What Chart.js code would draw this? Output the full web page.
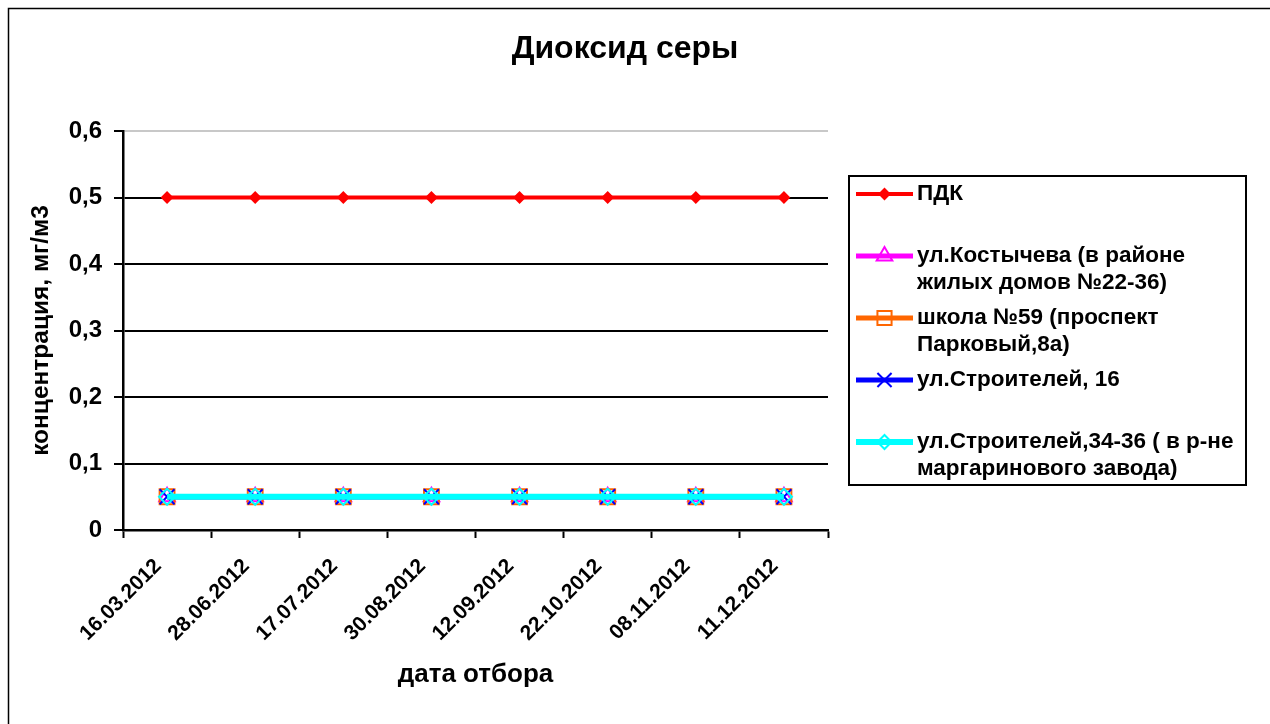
<!DOCTYPE html>
<html>
<head>
<meta charset="utf-8">
<script src="https://cdn.jsdelivr.net/npm/chart.js@4/dist/chart.umd.min.js"></script>
<style>
	body { margin: 0; background: #fff; }
	#wrap { width: 1270px; height: 724px; }
</style>
</head>
<body>
<div id="wrap"><canvas id="chart" width="1270" height="724"></canvas></div>
<script>
// data
const dates = ['16.03.2012', '28.06.2012', '17.07.2012', '30.08.2012', '12.09.2012', '22.10.2012', '08.11.2012', '11.12.2012'];
const pdk = [0.5, 0.5, 0.5, 0.5, 0.5, 0.5, 0.5, 0.5];
const kostycheva = [0.05, 0.05, 0.05, 0.05, 0.05, 0.05, 0.05, 0.05];
const school59 = [0.05, 0.05, 0.05, 0.05, 0.05, 0.05, 0.05, 0.05];
const stroiteley16 = [0.05, 0.05, 0.05, 0.05, 0.05, 0.05, 0.05, 0.05];
const stroiteley34 = [0.05, 0.05, 0.05, 0.05, 0.05, 0.05, 0.05, 0.05];
const yTickLabels = ['0', '0,1', '0,2', '0,3', '0,4', '0,5', '0,6'];
const chartTitle = 'Диоксид серы';

// legend text, one entry per series, split in lines as on the picture
const legendLines = [
	['ПДК'],
	['ул.Костычева (в районе', 'жилых домов №22-36)'],
	['школа №59 (проспект', 'Парковый,8а)'],
	['ул.Строителей, 16'],
	['ул.Строителей,34-36 ( в р-не', 'маргаринового завода)']
];
// marker size in the legend box
const legendRadius = [5, 9, 10, 10, 7];

const FONT = '"Liberation Sans", Arial, sans-serif';

function makeSet(label, data, color, style, radius, lineW, fill, order) {
	return {
		label: label,
		data: data,
		borderColor: color,
		backgroundColor: color,
		borderWidth: lineW,
		pointStyle: style,
		pointRadius: radius,
		pointBorderColor: color,
		pointBackgroundColor: fill,
		pointBorderWidth: 2,
		pointHoverRadius: radius,
		tension: 0,
		fill: false,
		order: order
	};
}

const datasets = [
	makeSet(legendLines[0].join(' '), pdk, '#ff0000', 'rectRot', 5, 4, '#ff0000', 4),
	makeSet(legendLines[1].join(' '), kostycheva, '#ff00ff', 'triangle', 9, 5, 'rgba(0,0,0,0)', 3),
	makeSet(legendLines[2].join(' '), school59, '#ff6600', 'rect', 10.5, 5, 'rgba(0,0,0,0)', 2),
	makeSet(legendLines[3].join(' '), stroiteley16, '#0000ff', 'crossRot', 10.5, 5, 'rgba(0,0,0,0)', 1),
	makeSet(legendLines[4].join(' '), stroiteley34, '#00ffff', 'rectRot', 8, 6, 'rgba(0,0,0,0)', 0)
];

// outer frame, title and legend box drawn on the canvas
const framePlugin = {
	id: 'frame',
	beforeDraw(chart) {
		const c = chart.ctx;
		c.save();
		c.strokeStyle = '#000';
		c.lineWidth = 1.5;
		c.strokeRect(8.5, 8.5, chart.width, chart.height);
		c.restore();
	},
	afterDraw(chart) {
		const c = chart.ctx;
		const area = chart.chartArea;
		c.save();
		c.fillStyle = '#000';
		c.font = 'bold 32px ' + FONT;
		c.textAlign = 'center';
		c.textBaseline = 'middle';
		c.fillText(chartTitle, chart.width / 2 - 10, 49);

		const boxX = area.right + 21, boxY = area.top + 45;
		const boxW = 397, boxH = 309;
		c.strokeStyle = '#000';
		c.lineWidth = 2;
		c.strokeRect(boxX, boxY, boxW, boxH);
		c.font = 'bold 22.5px ' + FONT;
		c.textAlign = 'left';
		datasets.forEach((ds, i) => {
			const y = boxY + 18 + i * 62;
			const x0 = boxX + 7, x1 = boxX + 64;
			c.strokeStyle = ds.borderColor;
			c.lineWidth = ds.borderWidth;
			c.beginPath();
			c.moveTo(x0, y);
			c.lineTo(x1, y);
			c.stroke();
			c.fillStyle = ds.pointBackgroundColor;
			c.strokeStyle = ds.pointBorderColor;
			c.lineWidth = ds.pointBorderWidth;
			Chart.helpers.drawPoint(c, { pointStyle: ds.pointStyle, radius: legendRadius[i], borderWidth: 2, rotation: 0 }, (x0 + x1) / 2, y);
			c.fillStyle = '#000';
			legendLines[i].forEach((t, j) => c.fillText(t, x1 + 4, y + j * 27));
		});
		c.restore();
	}
};

new Chart(document.getElementById('chart'), {
	type: 'line',
	data: { labels: dates, datasets: datasets },
	plugins: [framePlugin],
	options: {
		responsive: false,
		animation: false,
		events: [],
		layout: { padding: { left: 8, right: 442, top: 131, bottom: 0 } },
		plugins: {
			legend: { display: false },
			tooltip: { enabled: false },
			title: { display: false }
		},
		scales: {
			x: {
				offset: true,
				afterFit: (scale) => { scale.height = 194; },
				grid: {
					offset: true,
					drawOnChartArea: false,
					drawTicks: true,
					tickLength: 8,
					tickColor: '#000',
					tickWidth: 2
				},
				border: { display: true, color: '#000', width: 2.5 },
				ticks: {
					color: '#000',
					font: { family: FONT, size: 21, weight: 'bold' },
					minRotation: 45,
					maxRotation: 45,
					padding: 16,
					labelOffset: -9,
					autoSkip: false
				},
				title: {
					display: true,
					text: 'дата отбора',
					color: '#000',
					font: { family: FONT, size: 26, weight: 'bold' },
					padding: { top: 0, bottom: 34 }
				}
			},
			y: {
				min: 0,
				max: 0.6,
				afterFit: (scale) => { scale.width = 115; },
				grid: {
					color: (ctx) => ctx.tick && ctx.tick.value >= 0.59 ? '#c8c8c8' : '#000',
					lineWidth: 2,
					drawTicks: true,
					tickLength: 9,
					tickColor: '#000',
					tickWidth: 2
				},
				border: { display: true, color: '#000', width: 2.5 },
				ticks: {
					stepSize: 0.1,
					color: '#000',
					padding: 12,
					font: { family: FONT, size: 24, weight: 'bold' },
					callback: (v, i) => yTickLabels[i]
				},
				title: {
					display: true,
					text: 'концентрация, мг/м3',
					color: '#000',
					font: { family: FONT, size: 24.5, weight: 'bold' },
					padding: { top: 19, bottom: 0 }
				}
			}
		}
	}
});
</script>
</body>
</html>
